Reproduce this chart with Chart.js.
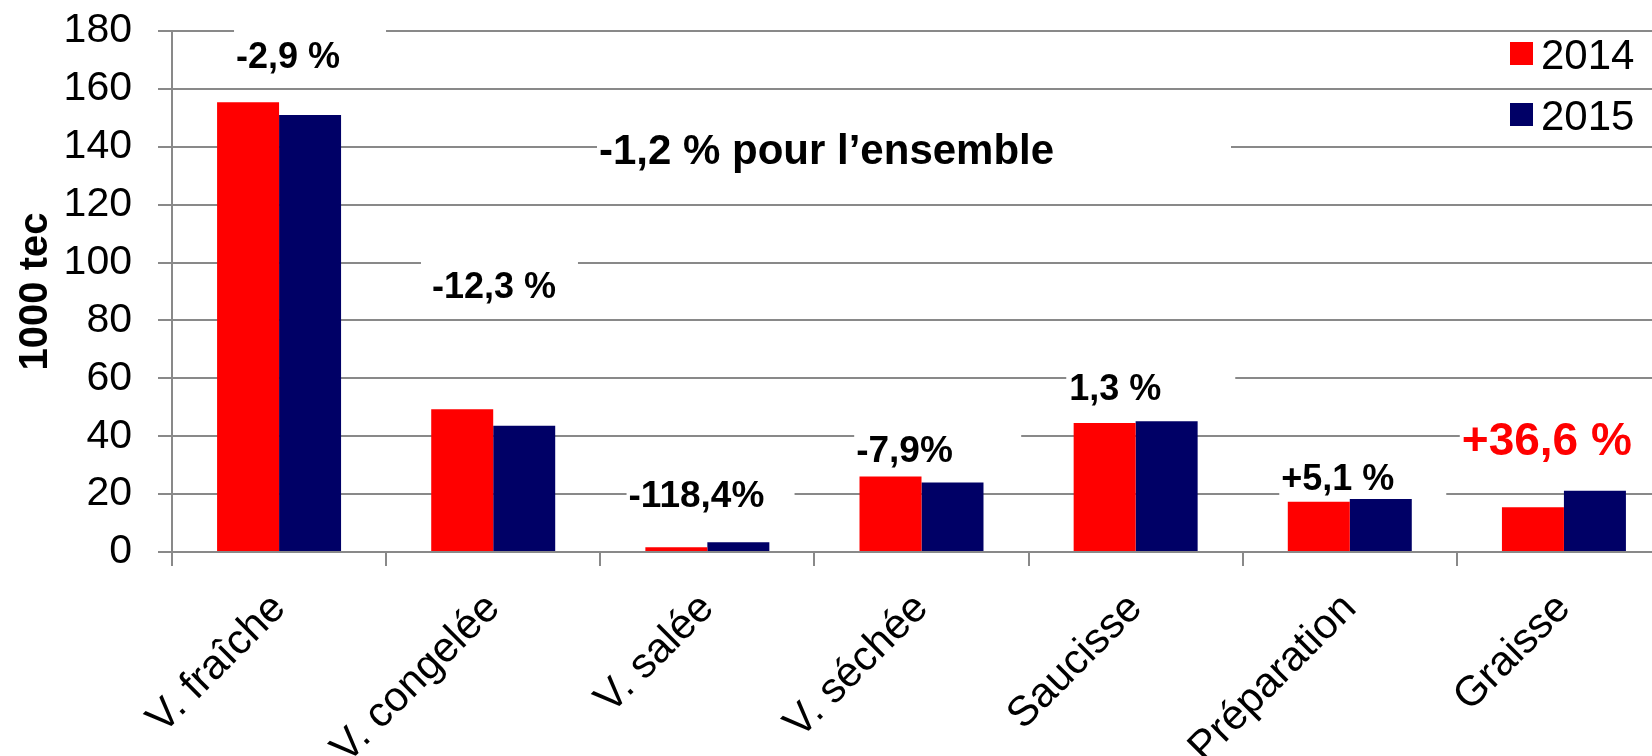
<!DOCTYPE html>
<html>
<head>
<meta charset="utf-8">
<script src="https://cdn.jsdelivr.net/npm/chart.js@4/dist/chart.umd.min.js"></script>
<style>
  html, body { margin: 0; padding: 0; background: #fff; overflow: hidden; }
  #wrap { width: 1652px; height: 756px; overflow: hidden; position: relative; }
  canvas { display: block; }
</style>
</head>
<body>
<div id="wrap"><canvas id="c" width="1671" height="756"></canvas></div>
<script>
// ---- data ----
const categories = ['V. fraîche', 'V. congelée', 'V. salée', 'V. séchée', 'Saucisse', 'Préparation', 'Graisse'];
const seriesNames = ['2014', '2015'];
const values2014 = [155.4, 49.3, 1.6, 26.1, 44.6, 17.4, 15.5];
const values2015 = [151.0, 43.6, 3.4, 24.0, 45.2, 18.3, 21.2];
const yTicks = [0, 20, 40, 60, 80, 100, 120, 140, 160, 180];
const yTitle = '1000 tec';
const noteTexts = ['-2,9 %', '-12,3 %', '-1,2 % pour l\u2019ensemble', '-118,4%', '-7,9%', '1,3 %', '+5,1 %', '+36,6 %'];

// ---- layout / style of notes (position in category index / value units) ----
const noteLayout = [
  { idx: -0.201, v: 167.2, size: 36, color: '#000000', bx: -2,  bw: 152 },
  { idx: 0.714,  v: 87.7,  size: 36, color: '#000000', bx: -11, bw: 157 },
  { idx: 1.494,  v: 134.0, size: 42, color: '#000000', bx: -2,  bw: 634 },
  { idx: 1.632,  v: 15.45, size: 37, color: '#000000', bx: -2,  bw: 168 },
  { idx: 2.695,  v: 31.0,  size: 37, color: '#000000', bx: -2,  bw: 167 },
  { idx: 3.690,  v: 52.5,  size: 36, color: '#000000', bx: -3,  bw: 169 },
  { idx: 4.680,  v: 21.3,  size: 36, color: '#000000', bx: -2,  bw: 167 },
  { idx: 5.523,  v: 33.4,  size: 46, color: '#FF0000', bx: -2,  bw: 260 }
];

const FONT = "'Liberation Sans', Arial, Helvetica, sans-serif";
const GRID = '#898989';
const colors = ['#FF0000', '#000066'];

const notesPlugin = {
  id: 'notes',
  beforeDatasetsDraw(chart) {
    const ctx = chart.ctx;
    const xs = chart.scales.x, ys = chart.scales.y;
    ctx.save();
    noteTexts.forEach((t, i) => {
      const L = noteLayout[i];
      const x = xs.getPixelForValue(L.idx);
      const y = ys.getPixelForValue(L.v);
      const cap = L.size * 0.72;
      ctx.fillStyle = '#ffffff';
      ctx.fillRect(x + L.bx, y - cap - 14, L.bw, cap + 28);
      ctx.font = 'bold ' + L.size + 'px ' + FONT;
      ctx.fillStyle = L.color;
      ctx.textAlign = 'left';
      ctx.textBaseline = 'alphabetic';
      ctx.fillText(t, x, y);
    });
    ctx.restore();
  },
  afterDraw(chart) {
    const ctx = chart.ctx;
    ctx.save();
    chart.data.datasets.forEach((ds, i) => {
      const y0 = 42 + i * 61;
      ctx.fillStyle = ds.backgroundColor;
      ctx.fillRect(1510, y0, 23, 23);
      ctx.fillStyle = '#000';
      ctx.font = '42px ' + FONT;
      ctx.textAlign = 'left';
      ctx.textBaseline = 'alphabetic';
      ctx.fillText(ds.label, 1541, y0 + 27);
    });
    ctx.restore();
  }
};

new Chart(document.getElementById('c'), {
  type: 'bar',
  data: {
    labels: categories,
    datasets: [
      { label: seriesNames[0], data: values2014, backgroundColor: colors[0], categoryPercentage: 0.579, barPercentage: 1.0 },
      { label: seriesNames[1], data: values2015, backgroundColor: colors[1], categoryPercentage: 0.579, barPercentage: 1.0 }
    ]
  },
  options: {
    responsive: false,
    animation: false,
    devicePixelRatio: 1,
    layout: { autoPadding: false, padding: { top: 31, left: 0, right: 0, bottom: 0 } },
    plugins: { legend: { display: false }, tooltip: { enabled: false } },
    scales: {
      x: {
        grid: { display: true, drawOnChartArea: false, color: GRID, lineWidth: 2, tickLength: 14, offset: true },
        border: { color: GRID, width: 2 },
        ticks: { color: '#000', font: { family: FONT, size: 42 }, minRotation: 45, maxRotation: 45, autoSkip: false, padding: 18 },
        afterFit(s) { s.height = 204; s.paddingLeft = 0; s.paddingRight = 0; }
      },
      y: {
        min: 0, max: 180,
        afterBuildTicks(s) { s.ticks = yTicks.map(v => ({ value: v })); },
        grid: { color: GRID, lineWidth: 2, tickLength: 14 },
        border: { color: GRID, width: 2 },
        ticks: { color: '#000', font: { family: FONT, size: 41 }, padding: 26 },
        title: { display: true, text: yTitle, color: '#000', font: { family: FONT, size: 40, weight: 'bold' }, padding: { top: 12, bottom: 0 } },
        afterFit(s) { s.width = 172; s.paddingTop = 0; s.paddingBottom = 0; }
      }
    }
  },
  plugins: [notesPlugin]
});
</script>
</body>
</html>
